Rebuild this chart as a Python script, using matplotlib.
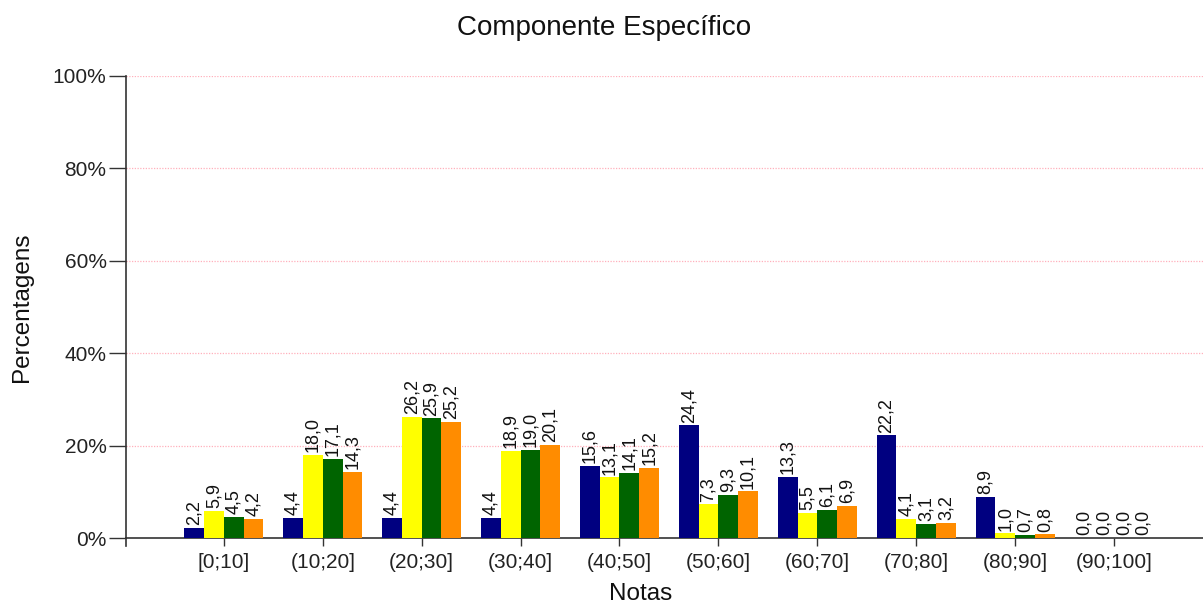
import matplotlib
matplotlib.use("Agg")
import matplotlib.pyplot as plt
import numpy as np

plt.rcParams['font.family'] = ['Liberation Sans', 'DejaVu Sans']

categories = ['[0;10]', '(10;20]', '(20;30]', '(30;40]', '(40;50]',
              '(50;60]', '(60;70]', '(70;80]', '(80;90]', '(90;100]']
serie_azul = [2.2, 4.4, 4.4, 4.4, 15.6, 24.4, 13.3, 22.2, 8.9, 0.0]
serie_amarela = [5.9, 18.0, 26.2, 18.9, 13.1, 7.3, 5.5, 4.1, 1.0, 0.0]
serie_verde = [4.5, 17.1, 25.9, 19.0, 14.1, 9.3, 6.1, 3.1, 0.7, 0.0]
serie_laranja = [4.2, 14.3, 25.2, 20.1, 15.2, 10.1, 6.9, 3.2, 0.8, 0.0]
y_ticks = [0, 20, 40, 60, 80, 100]

series = [serie_azul, serie_amarela, serie_verde, serie_laranja]
colors = ['#000080', '#FFFF00', '#006400', '#FF8C00']

fig = plt.figure(figsize=(12.03, 6.05), dpi=100)
ax = fig.add_axes([0.1047, 0.1107, 0.8953, 0.7637])

x = np.arange(len(categories))
w = 0.2
for i, (vals, c) in enumerate(zip(series, colors)):
    pos = x + (i - 1.5) * w
    ax.bar(pos, vals, width=w, color=c, zorder=3)
    for p, v in zip(pos, vals):
        ax.text(p, v + 0.6, f"{v:.1f}".replace('.', ','), rotation=90,
                ha='center', va='bottom', fontsize=13, color='#111111')

ax.set_xlim(-0.99, 9.9)
ax.set_ylim(0, 100)
ax.set_yticks(y_ticks)
ax.set_yticklabels([f"{t}%" for t in y_ticks], fontsize=15, color='#222222')
ax.set_xticks(x)
ax.set_xticklabels(categories, fontsize=15, color='#222222')
ax.tick_params(axis='y', length=12, width=1, color='#333333', pad=2)
ax.tick_params(axis='x', length=6, width=1, color='#333333', pad=5)

for t in y_ticks[1:]:
    ax.axhline(t, color='#ffb0bc', linestyle=(0, (1, 1.2)), linewidth=0.9, zorder=1)

for s in ['top', 'right']:
    ax.spines[s].set_visible(False)
for s in ['left', 'bottom']:
    ax.spines[s].set_color('#333333')
    ax.spines[s].set_linewidth(1.2)
# the y axis line runs a little below zero
ax.plot([0, 0], [0, -0.017], transform=ax.transAxes, color='#333333',
        linewidth=1.2, clip_on=False)

fig.text(0.502, 1 - 28 / 605, "Componente Específico", fontsize=20,
         ha='center', va='center', color='#111111')
fig.text(641 / 1203, 1 - 594 / 605, "Notas", fontsize=17.5,
         ha='center', va='center', color='#111111')
fig.text(22 / 1203, 1 - 307 / 605, "Percentagens", fontsize=17.5, rotation=90,
         ha='center', va='center', color='#111111')

fig.savefig("out.png", dpi=100)
